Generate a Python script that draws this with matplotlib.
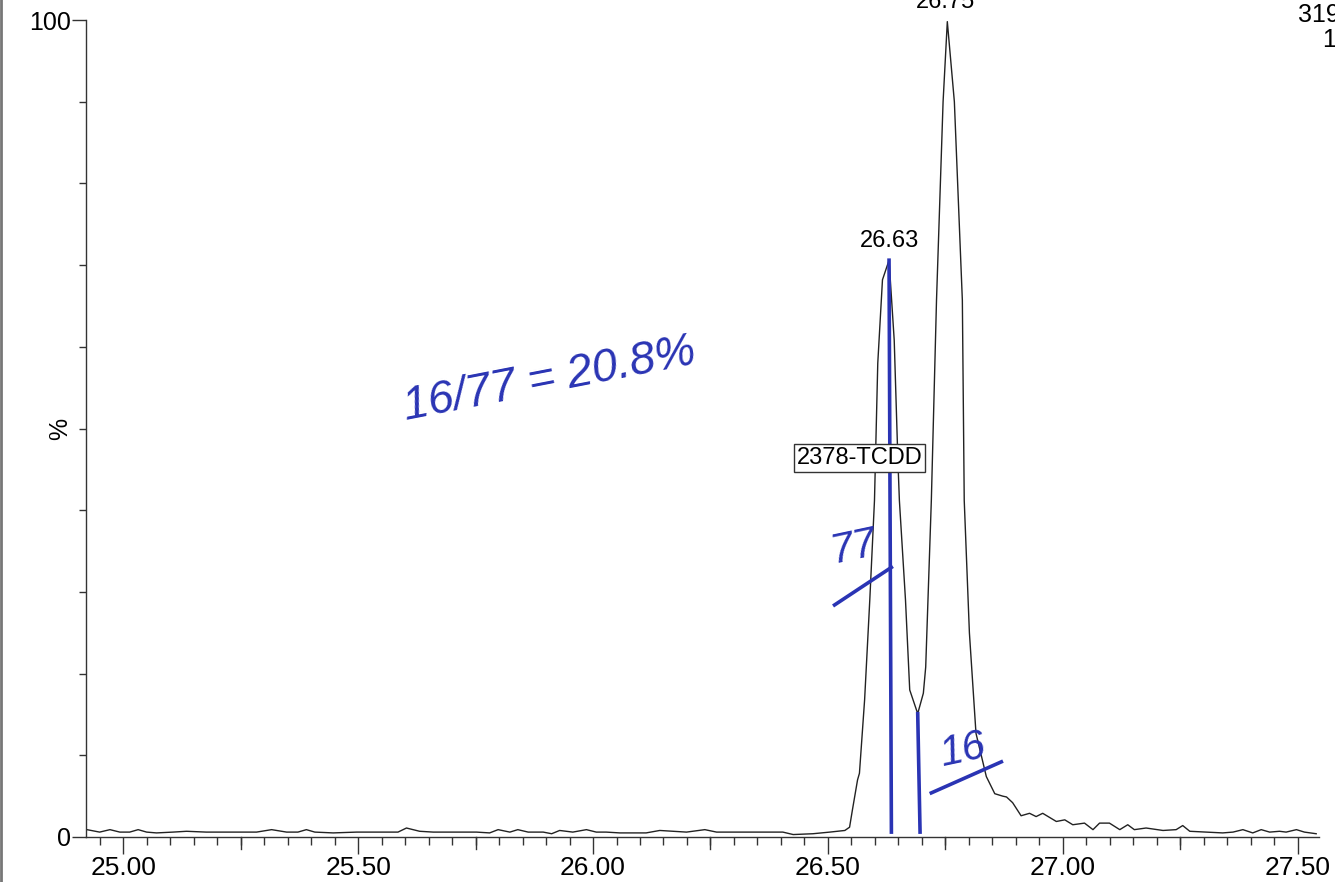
import matplotlib
matplotlib.use("Agg")
import matplotlib.pyplot as plt
from matplotlib.ticker import MultipleLocator, FixedLocator
from matplotlib.lines import Line2D

plt.rcParams['font.family'] = ['Liberation Sans', 'DejaVu Sans']

# chromatogram trace (retention time in min, intensity in %)
rt = [24.923, 24.950, 24.972, 24.993, 25.014, 25.032, 25.050, 25.071, 25.106, 25.135,
      25.177, 25.234, 25.284, 25.316, 25.348, 25.372, 25.390, 25.408, 25.447, 25.497,
      25.539, 25.585, 25.603, 25.631, 25.660, 25.688, 25.716, 25.752, 25.780, 25.798,
      25.823, 25.840, 25.862, 25.894, 25.912, 25.929, 25.957, 25.986, 26.007, 26.028,
      26.057, 26.113, 26.142, 26.199, 26.238, 26.263, 26.312, 26.369, 26.404, 26.426,
      26.468, 26.504, 26.536, 26.546, 26.552, 26.563, 26.567, 26.578, 26.589, 26.599,
      26.606, 26.616, 26.630, 26.641, 26.649, 26.652, 26.665, 26.674, 26.691, 26.703,
      26.708, 26.720, 26.731, 26.745, 26.754, 26.769, 26.786, 26.790, 26.801, 26.815,
      26.837, 26.855, 26.872, 26.880, 26.893, 26.911, 26.929, 26.943, 26.957, 26.986,
      27.004, 27.021, 27.046, 27.064, 27.078, 27.099, 27.121, 27.138, 27.152, 27.177,
      27.213, 27.241, 27.255, 27.270, 27.305, 27.340, 27.362, 27.383, 27.404, 27.422,
      27.440, 27.461, 27.475, 27.497, 27.514, 27.539]
inten = [0.9, 0.6, 0.9, 0.6, 0.6, 0.9, 0.6, 0.5, 0.6, 0.7,
         0.6, 0.6, 0.6, 0.9, 0.6, 0.6, 0.9, 0.6, 0.5, 0.6,
         0.6, 0.6, 1.1, 0.7, 0.6, 0.6, 0.6, 0.6, 0.5, 0.9,
         0.6, 0.9, 0.6, 0.6, 0.4, 0.8, 0.6, 0.9, 0.6, 0.6,
         0.5, 0.5, 0.8, 0.6, 0.9, 0.6, 0.6, 0.6, 0.6, 0.3,
         0.4, 0.6, 0.8, 1.2, 3.3, 7.0, 7.8, 16.8, 29.0, 41.2,
         58.0, 68.2, 70.6, 60.8, 45.8, 41.2, 29.0, 18.0, 15.1, 17.6,
         20.8, 41.2, 65.7, 90.0, 99.8, 90.0, 65.7, 41.2, 25.0, 12.7,
         7.4, 5.3, 5.0, 4.9, 4.2, 2.6, 2.9, 2.5, 2.9, 1.9,
         2.1, 1.5, 1.7, 0.9, 1.7, 1.7, 0.9, 1.5, 0.9, 1.1,
         0.8, 0.9, 1.4, 0.7, 0.6, 0.5, 0.6, 0.9, 0.5, 0.9,
         0.6, 0.7, 0.6, 0.9, 0.6, 0.4]

peak_rt = [26.63, 26.75]
peak_top = [70.6, 99.8]
peak_labels = ["26.63", "26.75"]

# hand-drawn integration marks (blue pen)
drop_x = [[26.630, 26.635], [26.691, 26.696]]
drop_y = [[70.6, 0.6], [15.1, 0.6]]
under_x = [[26.514, 26.635], [26.720, 26.869]]
under_y = [[28.4, 33.0], [5.4, 9.2]]
area_labels = ["77", "16"]
area_pos = [(26.555, 35.4), (26.787, 10.6)]

pen = "#2a34b4"

fig = plt.figure(figsize=(13.35, 8.82), dpi=100)
ax = fig.add_axes([86 / 1335, 45 / 882, 1233 / 1335, 817 / 882])

ax.plot(rt, inten, color="#222222", lw=1.0)

ax.set_xlim(24.921, 27.545)
ax.set_ylim(0, 100)

for s in ["top", "right"]:
    ax.spines[s].set_visible(False)
for s in ["left", "bottom"]:
    ax.spines[s].set_linewidth(1.0)
    ax.spines[s].set_color("#333333")

ax.xaxis.set_major_locator(FixedLocator([25.0, 25.5, 26.0, 26.5, 27.0, 27.5]))
ax.xaxis.set_minor_locator(MultipleLocator(0.05))
ax.set_xticklabels(["25.00", "25.50", "26.00", "26.50", "27.00", "27.50"])
ax.tick_params(axis="x", which="major", length=12, width=1, color="#333333",
               labelsize=19, pad=2)
ax.tick_params(axis="x", which="minor", length=6, width=1, color="#333333")
# medium ticks at the quarter minutes
for q in [25.25, 25.75, 26.25, 26.75, 27.25]:
    ax.plot([q, q], [0, -1.5], color="#333333", lw=1, clip_on=False)

ax.yaxis.set_major_locator(FixedLocator([0, 100]))
ax.yaxis.set_minor_locator(MultipleLocator(10))
ax.set_yticklabels(["0", "100"])
ax.tick_params(axis="y", which="major", length=10, width=1, color="#333333",
               labelsize=18, pad=1)
ax.tick_params(axis="y", which="minor", length=5, width=1, color="#333333")
ax.text(-0.021, 50, "%", rotation=90, fontsize=18, ha="center", va="center",
        transform=ax.get_yaxis_transform())

for x, y, lab in zip(peak_rt, peak_top, peak_labels):
    ax.text(x, y + 1.0, lab, fontsize=17, ha="center", va="bottom", clip_on=False)

ax.text(26.567, 46.4, "2378-TCDD", fontsize=17, ha="center", va="center",
        bbox=dict(boxstyle="square,pad=0.12", fc="white", ec="#333333", lw=1))

# blue pen marks
for xs, ys in zip(drop_x, drop_y):
    ax.plot(xs, ys, color=pen, lw=2.6)
for xs, ys in zip(under_x, under_y):
    ax.plot(xs, ys, color=pen, lw=2.6)
for (x, y), lab in zip(area_pos, area_labels):
    ax.text(x, y, lab, color=pen, fontsize=30, style="italic", rotation=12,
            ha="center", va="center")
ax.text(25.908, 55.9, "16/77 = 20.8%", color=pen, fontsize=33, style="italic",
        rotation=11, ha="center", va="center")

# cut-off header text at the top right
fig.text(1298 / 1335, 1 - 22 / 882, "319.90", fontsize=18, ha="left", va="baseline")
fig.text(1322 / 1335, 1 - 47 / 882, "1.38e4", fontsize=18, ha="left", va="baseline")

# scan border at the far left
fig.add_artist(Line2D([0.001, 0.001], [0, 1], color="#777777", lw=2))

fig.savefig("out.png", dpi=100)
